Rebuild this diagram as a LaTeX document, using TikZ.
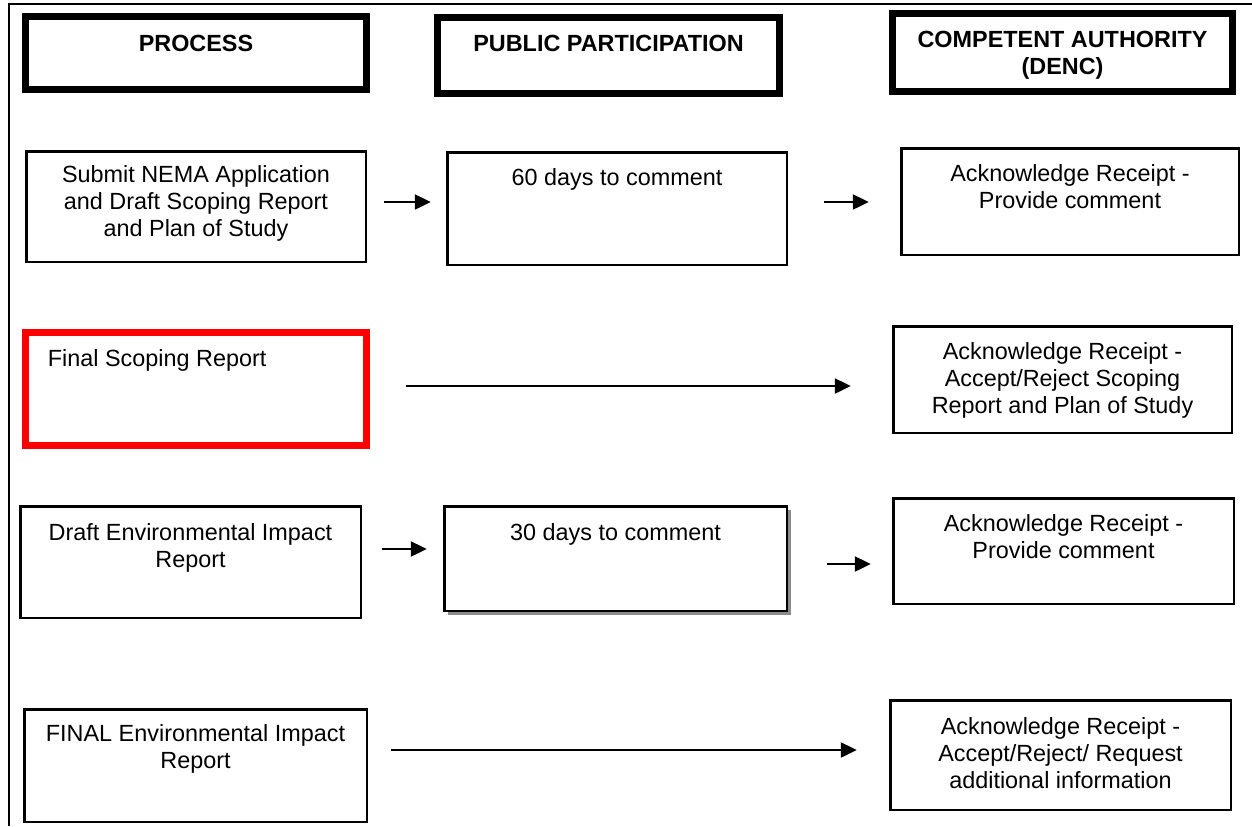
\documentclass[tikz,border=0pt]{standalone}
\usepackage{fontspec}
\setmainfont{Liberation Sans}
\usepackage{tikz}
\usetikzlibrary{arrows.meta,positioning,shadows}
\definecolor{alarm}{HTML}{FF0000}
\definecolor{shade}{HTML}{8C8C8C}
\tikzset{
  hdbox/.style={rectangle, draw=black, fill=white, line width=3.5pt, inner sep=0pt},
  pbox/.style={rectangle, draw=black, fill=white, line width=1.25pt, inner sep=0pt},
  redbox/.style={pbox, draw=alarm, line width=3.5pt},
  txt/.style={inner sep=0pt, align=center, font=\fontsize{11.7}{13.5}\selectfont},
  hdtxt/.style={txt, font=\fontsize{11.7}{13.5}\selectfont\bfseries},
  flow/.style={-{Triangle[length=8pt, width=7.5pt]}, draw=black, line width=1.1pt},
}

\begin{document}
\begin{tikzpicture}[x=0.5pt, y=-0.5pt]
\useasboundingbox (0,0) rectangle (1252,826);
% page frame
\draw[line width=1pt] (1252,4) -- (9,4) -- (9,826);

% column headers
\node[hdbox, minimum width=170.5pt, minimum height=36.5pt] (hdP) at (196,53) {};
\node[hdbox, minimum width=171pt, minimum height=38pt] (hdPP) at (608.5,55.5) {};
\node[hdbox, minimum width=170pt, minimum height=39pt] (hdCA) at (1062.5,52.5) {};
\node[hdtxt, below=10.75pt of hdP.north] (hdPT) {PROCESS};
\node[hdtxt, below=10.25pt of hdPP.north] (hdPPT) {PUBLIC PARTICIPATION};
\node[hdtxt, below=10.5pt of hdCA.north] (hdCAT) {COMPETENT AUTHORITY\\(DENC)};

% row 1: application and draft scoping
\node[pbox, minimum width=169.75pt, minimum height=55.25pt] (sub) at (196,206.5) {};
\node[pbox, minimum width=169.75pt, minimum height=56.25pt] (c60) at (617,208.5) {};
\node[pbox, minimum width=168.75pt, minimum height=53.25pt] (ack1) at (1070,201.5) {};
\node[txt, below=7.7pt of sub.north] (subT) {Submit NEMA Application\\and Draft Scoping Report\\and Plan of Study};
\node[txt, below=8.7pt of c60.north] (c60T) {60 days to comment};
\node[txt, below=8.7pt of ack1.north] (ack1T) {Acknowledge Receipt -\\Provide comment};

% row 2: final scoping
\node[redbox, minimum width=170.5pt, minimum height=56.5pt] (fsr) at (196,389) {};
\node[pbox, minimum width=169.25pt, minimum height=53.25pt] (ack2) at (1062.5,379.5) {};
\node[txt, below right=10pt and 12.75pt of fsr.north west] (fsrT) {Final Scoping Report};
\node[txt, below=8.7pt of ack2.north] (ack2T) {Acknowledge Receipt -\\Accept/Reject Scoping\\Report and Plan of Study};

% row 3: draft EIR
\node[pbox, minimum width=170.25pt, minimum height=55.75pt] (deir) at (190.5,562) {};
\node[pbox, minimum width=171.25pt, minimum height=52.25pt,
      drop shadow={shadow xshift=2pt, shadow yshift=-2pt, fill=shade, opacity=1}] (c30) at (615.5,558.5) {};
\node[pbox, minimum width=170.25pt, minimum height=52.75pt] (ack3) at (1063.5,551) {};
\node[txt, below=9.2pt of deir.north] (deirT) {Draft Environmental Impact\\Report};
\node[txt, below=9.2pt of c30.north] (c30T) {30 days to comment};
\node[txt, below=8.7pt of ack3.north] (ack3T) {Acknowledge Receipt -\\Provide comment};

% row 4: final EIR
\node[pbox, minimum width=171.25pt, minimum height=56.25pt] (feir) at (195.5,765.5) {};
\node[pbox, minimum width=170.25pt, minimum height=54.75pt] (ack4) at (1060.5,755) {};
\node[txt, below=8.2pt of feir.north] (feirT) {FINAL Environmental Impact\\Report};
\node[txt, below=9.2pt of ack4.north] (ack4T) {Acknowledge Receipt -\\Accept/Reject/ Request\\additional information};

% arrows
\draw[flow] ([xshift=8.6pt,yshift=2.25pt]sub.east) -- ([xshift=-7.6pt,yshift=3.25pt]c60.west);
\draw[flow] ([xshift=18.1pt,yshift=3.25pt]c60.east) -- ([xshift=-15.6pt,yshift=-0.25pt]ack1.west);
\draw[flow] ([xshift=17.75pt,yshift=1.5pt]fsr.east) -- ([xshift=-20.6pt,yshift=-3.25pt]ack2.west);
\draw[flow] ([xshift=10.1pt,yshift=6.5pt]deir.east) -- ([xshift=-8.1pt,yshift=4.75pt]c30.west);
\draw[flow] ([xshift=19.6pt,yshift=-2.75pt]c30.east) -- ([xshift=-10.6pt,yshift=-6.5pt]ack3.west);
\draw[flow] ([xshift=11.6pt,yshift=7.75pt]feir.east) -- ([xshift=-16.1pt,yshift=2.5pt]ack4.west);
\end{tikzpicture}
\end{document}
